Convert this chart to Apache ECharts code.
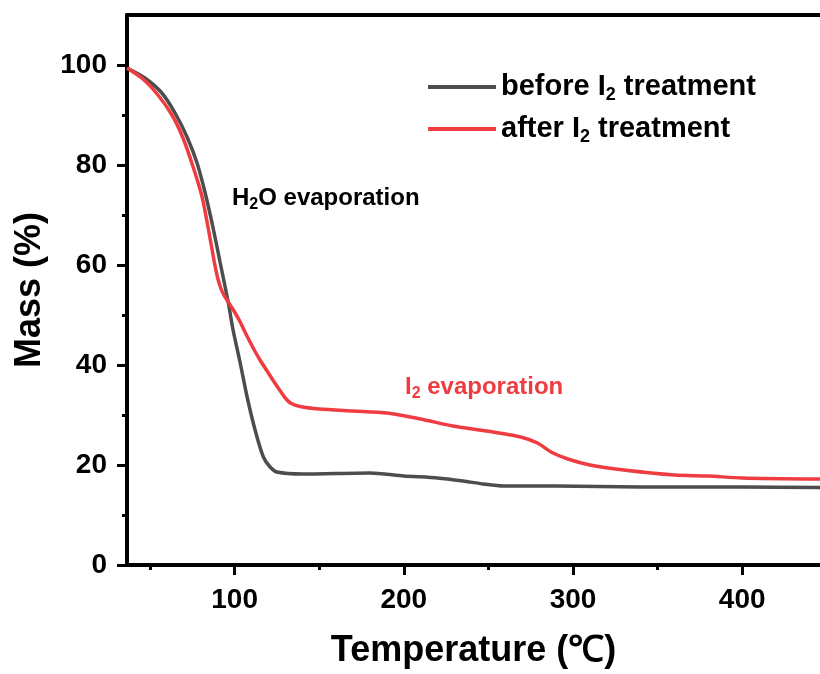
<!DOCTYPE html>
<html>
<head>
<meta charset="utf-8">
<script src="https://cdn.jsdelivr.net/npm/echarts@6/dist/echarts.min.js"></script>
<style>
  html, body { margin: 0; padding: 0; background: #fff; }
  #chart { width: 820px; height: 674px; }
</style>
</head>
<body>
<div id="chart"></div>
<script>
// TGA 数据
const beforeT = [36.4, 47, 57, 64.8, 71.9, 77.8, 82.6, 87.3, 91.4, 96.2, 99.1, 103.3, 107.4, 112.1, 117, 121, 125, 140, 180, 200, 220, 235, 247, 259, 290, 340, 400, 446];
const beforeMass = [99.4, 97.4, 94.4, 90.4, 85.6, 80.4, 74.4, 67.4, 60.6, 52.6, 47, 40.4, 33.6, 27, 21.6, 19.6, 18.6, 18.2, 18.4, 17.8, 17.4, 16.8, 16.2, 15.8, 15.8, 15.6, 15.6, 15.5];

const afterT = [36.4, 45.8, 54.7, 63, 69.5, 75.5, 80.8, 84.6, 88, 90, 92, 94, 96.2, 100, 103.3, 107, 111, 115, 119.2, 123, 127, 130, 133, 138.8, 150, 170, 190, 210, 229, 249, 269, 279, 287, 297, 310, 330, 360, 380, 400, 446];
const afterMass = [99.4, 97.2, 94, 90, 85.4, 79.6, 73.6, 67, 60.6, 57.4, 55.2, 53.8, 52.6, 50.6, 48.6, 46, 43.4, 41, 38.8, 36.8, 34.8, 33.4, 32.4, 31.7, 31.2, 30.8, 30.4, 29.2, 27.8, 26.8, 25.6, 24.4, 22.6, 21.2, 20, 19, 18, 17.8, 17.4, 17.2];

const xMajorTicks = [100, 200, 300, 400];
const xMinorTicks = [50, 150, 250, 350];
const yMajorTicks = [0, 20, 40, 60, 80, 100];
const yMinorTicks = [10, 30, 50, 70, 90];

const seriesNames = ['before I2 treatment', 'after I2 treatment'];

const FONT = '"Liberation Sans", Arial, sans-serif';
const AXIS_W = 4;

const chart = echarts.init(document.getElementById('chart'), null, { renderer: 'canvas' });

const xBase = { type: 'value', min: 36.4, max: 446, splitLine: { show: false } };
const yBase = { type: 'value', min: 0, max: 110, splitLine: { show: false } };

const option = {
  backgroundColor: '#ffffff',
  animation: false,
  grid: { left: 127, right: 0, top: 15, bottom: 109, containLabel: false, outerBoundsMode: 'none' },
  legend: {
    orient: 'vertical',
    left: 423,
    top: 66,
    icon: 'rect',
    itemWidth: 68,
    itemHeight: 4,
    itemGap: 9,
    data: seriesNames,
    formatter: name => name.replace('I2', 'I{sub|2}'),
    textStyle: {
      fontFamily: FONT, fontSize: 29, fontWeight: 'bold', color: '#000', lineHeight: 32,
      rich: {
        sub: { fontFamily: FONT, fontSize: 18, fontWeight: 'bold', color: '#000', padding: [16, 0, 0, 0] }
      }
    }
  },
  xAxis: [
    Object.assign({}, xBase, {
      position: 'bottom',
      name: 'Temperature (℃)',
      nameLocation: 'middle',
      nameGap: 68,
      nameMoveOverlap: false,
      nameTextStyle: { fontFamily: FONT, fontSize: 36, fontWeight: 'bold', color: '#000' },
      axisLine: { show: true, lineStyle: { color: '#000', width: AXIS_W } },
      axisTick: { show: true, inside: false, length: 10, customValues: xMajorTicks, lineStyle: { color: '#000', width: 3 } },
      axisLabel: { customValues: xMajorTicks, margin: 21, fontFamily: FONT, fontSize: 28, fontWeight: 'bold', color: '#000' }
    }),
    Object.assign({}, xBase, {
      position: 'bottom',
      axisLine: { show: false },
      axisTick: { show: true, inside: false, length: 5, customValues: xMinorTicks, lineStyle: { color: '#000', width: 3 } },
      axisLabel: { show: false }
    }),
    Object.assign({}, xBase, {
      position: 'top',
      axisLine: { show: true, lineStyle: { color: '#000', width: AXIS_W } },
      axisTick: { show: false },
      axisLabel: { show: false }
    })
  ],
  yAxis: [
    Object.assign({}, yBase, {
      position: 'left',
      name: 'Mass (%)',
      nameLocation: 'middle',
      nameGap: 79,
      nameMoveOverlap: false,
      nameTextStyle: { fontFamily: FONT, fontSize: 36, fontWeight: 'bold', color: '#000' },
      axisLine: { show: true, lineStyle: { color: '#000', width: AXIS_W } },
      axisTick: { show: true, inside: false, length: 10, customValues: yMajorTicks, lineStyle: { color: '#000', width: 3 } },
      axisLabel: { customValues: yMajorTicks, margin: 20, fontFamily: FONT, fontSize: 28, fontWeight: 'bold', color: '#000' }
    }),
    Object.assign({}, yBase, {
      position: 'left',
      axisLine: { show: false },
      axisTick: { show: true, inside: false, length: 5, customValues: yMinorTicks, lineStyle: { color: '#000', width: 3 } },
      axisLabel: { show: false }
    })
  ],
  graphic: [
    {
      type: 'text',
      left: 232,
      top: 186,
      style: {
        text: 'H{sub|2}O evaporation',
        fontFamily: FONT, fontSize: 24, fontWeight: 'bold', fill: '#000',
        rich: { sub: { fontFamily: FONT, fontSize: 16, fontWeight: 'bold', fill: '#000', padding: [14, 0, 0, 0] } }
      }
    },
    {
      type: 'text',
      left: 405,
      top: 375,
      style: {
        text: 'I{sub|2} evaporation',
        fontFamily: FONT, fontSize: 24, fontWeight: 'bold', fill: '#ef3c41',
        rich: { sub: { fontFamily: FONT, fontSize: 16, fontWeight: 'bold', fill: '#ef3c41', padding: [14, 0, 0, 0] } }
      }
    }
  ],
  series: [
    {
      name: seriesNames[0],
      type: 'line',
      symbol: 'none',
      smooth: 0.25,
      color: '#4d4d4d',
      lineStyle: { color: '#4d4d4d', width: 3.5 },
      data: beforeT.map((t, i) => [t, beforeMass[i]])
    },
    {
      name: seriesNames[1],
      type: 'line',
      symbol: 'none',
      smooth: 0.25,
      color: '#ef3c41',
      lineStyle: { color: '#ef3c41', width: 3.5 },
      data: afterT.map((t, i) => [t, afterMass[i]])
    }
  ]
};

chart.setOption(option);
</script>
</body>
</html>
